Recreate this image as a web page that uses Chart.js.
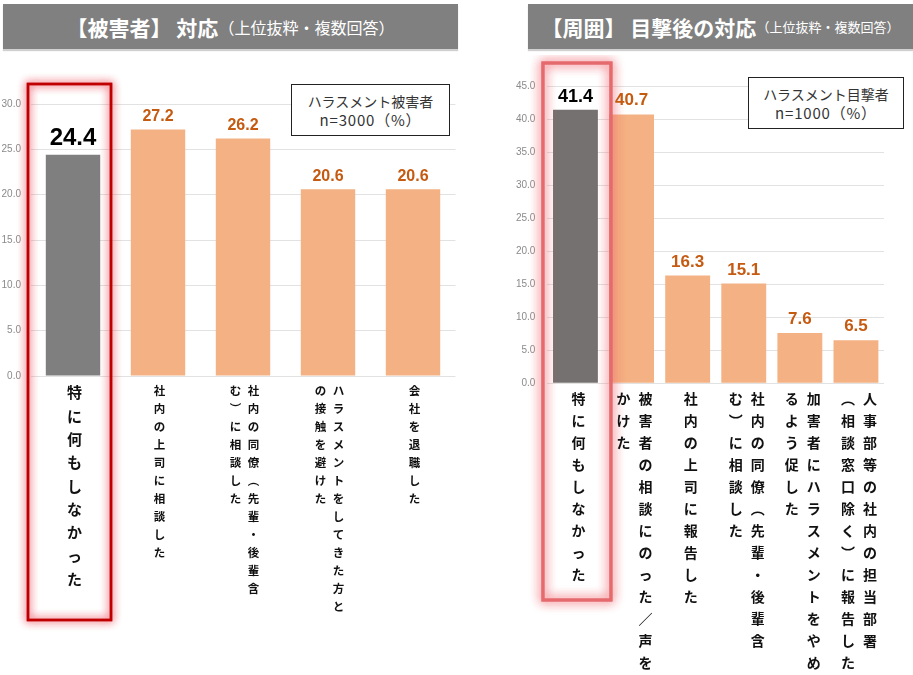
<!DOCTYPE html>
<html>
<head>
<meta charset="utf-8">
<script src="https://cdn.jsdelivr.net/npm/chart.js@4.4.1/dist/chart.umd.min.js"></script>
<style>
  body { margin: 0; background: #fff; width: 913px; height: 675px; overflow: hidden; position: relative;
         font-family: "Noto Sans CJK JP", sans-serif; }
  .banner { position: absolute; top: 4px; height: 45px; background: #808080; color: #fff;
            display: flex; align-items: center; justify-content: center; white-space: nowrap;
            box-shadow: 0 2px 1px #d0d0d0; }
  .banner b { font-weight: 700; }
  .note { position: absolute; border: 1.5px solid #222; background: #fff; color: #333; text-align: center;
          font-size: 14px; line-height: 18.5px; padding-top: 7px; box-sizing: border-box; }
  .note span { font-size: 15px; letter-spacing: 0.8px; }
  canvas { position: absolute; top: 55px; }
</style>
</head>
<body>
<div class="banner" style="left:3px;width:455px;">
  <b style="font-size:21px">【被害者】 対応</b><span style="font-size:16px">（上位抜粋・複数回答）</span>
</div>
<div class="banner" style="left:528px;width:385px;">
  <b style="font-size:21px">【周囲】 目撃後の対応</b><span style="font-size:13px">（上位抜粋・複数回答）</span>
</div>

<canvas id="victim" width="460" height="620" style="left:0"></canvas>
<canvas id="witness" width="453" height="620" style="left:460px"></canvas>

<div class="note" style="left:291px;top:84px;width:159px;height:52px;">ハラスメント被害者<br><span>n=3000（%）</span></div>
<div class="note" style="left:748px;top:77px;width:156px;height:52px;">ハラスメント目撃者<br><span>n=1000（%）</span></div>

<script>
// categories: each label is a list of vertical columns, read right to left
const victimLabels = [
  ['特に何もしなかった'],
  ['社内の上司に相談した'],
  ['社内の同僚︵先輩・後輩含', 'む︶に相談した'],
  ['ハラスメントをしてきた方と', 'の接触を避けた'],
  ['会社を退職した']
];
const victimValues = [24.4, 27.2, 26.2, 20.6, 20.6];
const victimTicks = [0, 5, 10, 15, 20, 25, 30];

const witnessLabels = [
  ['特に何もしなかった'],
  ['被害者の相談にのった／声を', 'かけた'],
  ['社内の上司に報告した'],
  ['社内の同僚︵先輩・後輩含', 'む︶に相談した'],
  ['加害者にハラスメントをやめ', 'るよう促した'],
  ['人事部等の社内の担当部署', '︵相談窓口除く︶に報告した']
];
const witnessValues = [41.4, 40.7, 16.3, 15.1, 7.6, 6.5];
const witnessTicks = [0, 5, 10, 15, 20, 25, 30, 35, 40, 45];

const ORANGE = '#f4b183';
const ORANGE_TEXT = '#c55a11';
const JP = '"Noto Sans CJK JP", sans-serif';
const NUM = '"Liberation Sans", Arial, sans-serif';

// vertical category text under each bar
const verticalLabels = {
  id: 'verticalLabels',
  afterDraw(chart, args, o) {
    const ctx = chart.ctx, xs = chart.scales.x;
    ctx.save();
    ctx.textAlign = 'center';
    ctx.textBaseline = 'middle';
    ctx.fillStyle = '#111';
    chart.data.labels.forEach((cols, i) => {
      const st = i === 0 ? o.first : o.rest;
      ctx.font = `bold ${st.size}px ${JP}`;
      const cx = xs.getPixelForValue(i) + o.shift;
      cols.forEach((col, c) => {
        const x = cx + ((cols.length - 1) / 2 - c) * st.gap;
        [...col].forEach((ch, k) => ctx.fillText(ch, x, st.top + k * st.step));
      });
    });
    ctx.restore();
  }
};

// numbers above bars
const valueLabels = {
  id: 'valueLabels',
  afterDatasetsDraw(chart, args, o) {
    const ctx = chart.ctx;
    const vals = chart.data.datasets[0].data;
    ctx.save();
    ctx.textAlign = 'center';
    ctx.textBaseline = 'alphabetic';
    chart.getDatasetMeta(0).data.forEach((bar, i) => {
      const st = i === 0 ? o.first : o.rest;
      ctx.font = `bold ${st.size}px ${NUM}`;
      ctx.fillStyle = st.color;
      ctx.fillText(vals[i].toFixed(1), bar.x, bar.y - st.gap);
    });
    ctx.restore();
  }
};

// glowing frame around the first category
const highlight = {
  id: 'highlight',
  afterDatasetsDraw(chart, args, o) {
    const ctx = chart.ctx;
    const x = chart.scales.x.getPixelForValue(0) + o.dx;
    const top = chart.chartArea.top + o.dy;
    ctx.save();
    ctx.shadowColor = o.glow;
    ctx.shadowBlur = o.blur;
    ctx.strokeStyle = o.color;
    ctx.lineWidth = o.width;
    ctx.strokeRect(x, top, o.w, o.bottom - top);
    ctx.strokeRect(x, top, o.w, o.bottom - top);
    ctx.restore();
  }
};

function makeChart(id, labels, values, ticks, firstColor, cfg) {
  return new Chart(document.getElementById(id), {
    type: 'bar',
    data: {
      labels: labels,
      datasets: [{
        data: values,
        backgroundColor: values.map((v, i) => i === 0 ? firstColor : ORANGE),
        categoryPercentage: 1,
        barPercentage: cfg.barPct
      }]
    },
    options: {
      responsive: false,
      animation: false,
      layout: { padding: cfg.padding },
      scales: {
        x: { display: false },
        y: {
          min: 0,
          max: ticks[ticks.length - 1],
          afterBuildTicks: s => { s.ticks = ticks.map(v => ({ value: v })); },
          afterFit: s => { s.width = cfg.axisWidth; },
          border: { display: false },
          grid: { color: '#e2e2e2', drawTicks: false },
          ticks: {
            padding: cfg.tickPad,
            color: '#8a8a8a',
            font: { size: 10, family: NUM },
            callback: v => Number(v).toFixed(1)
          }
        }
      },
      plugins: {
        legend: { display: false },
        tooltip: { enabled: false },
        verticalLabels: cfg.labels,
        valueLabels: cfg.values,
        highlight: cfg.frame
      }
    },
    plugins: [highlight, valueLabels, verticalLabels]
  });
}

makeChart('victim', victimLabels, victimValues, victimTicks, '#7f7f7f', {
  barPct: 0.64,
  padding: { left: 0, right: 4.5, top: 49, bottom: 299 },
  axisWidth: 30.5,
  tickPad: 9.5,
  labels: {
    shift: 1.5,
    first: { size: 15, step: 23.3, gap: 18, top: 337.7 },
    rest: { size: 11.5, step: 18, gap: 18, top: 335.7 }
  },
  values: {
    first: { size: 24, color: '#000', gap: 10 },
    rest: { size: 16, color: ORANGE_TEXT, gap: 8.5 }
  },
  frame: { dx: -45, w: 83, dy: -20, bottom: 565, color: '#c00000', width: 2.5,
           glow: 'rgba(235,70,85,0.85)', blur: 9 }
});

makeChart('witness', witnessLabels, witnessValues, witnessTicks, '#767171', {
  barPct: 0.8,
  padding: { left: 0, right: 29, top: 31, bottom: 291.7 },
  axisWidth: 87.4,
  tickPad: 12,
  labels: {
    shift: 3,
    first: { size: 14, step: 22, gap: 22, top: 343.3 },
    rest: { size: 14, step: 22, gap: 22, top: 343.3 }
  },
  values: {
    first: { size: 18, color: '#000', gap: 8 },
    rest: { size: 17, color: ORANGE_TEXT, gap: 9 }
  },
  frame: { dx: -32.5, w: 68, dy: -23, bottom: 545, color: '#e46a6e', width: 3,
           glow: 'rgba(240,100,110,0.9)', blur: 11 }
});
</script>
</body>
</html>
